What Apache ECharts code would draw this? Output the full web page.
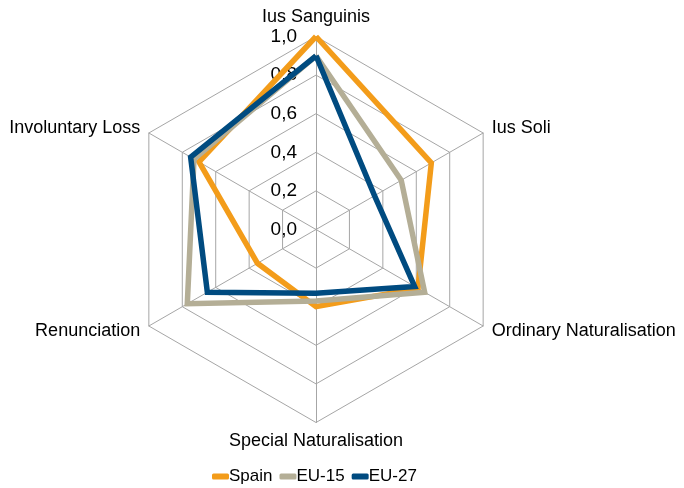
<!DOCTYPE html>
<html>
<head>
<meta charset="utf-8">
<script src="https://cdn.jsdelivr.net/npm/echarts@6/dist/echarts.min.js"></script>
<style>
html,body{margin:0;padding:0;background:#fff;}
#chart{width:684px;height:488px;}
</style>
</head>
<body>
<div id="chart"></div>
<script>
var categories = ['Ius Sanguinis', 'Ius Soli', 'Ordinary Naturalisation', 'Special Naturalisation', 'Renunciation', 'Involuntary Loss'];
var spain = [1.0, 0.69, 0.61, 0.40, 0.35, 0.70];
var eu15 = [0.90, 0.51, 0.65, 0.37, 0.77, 0.73];
var eu27 = [0.90, 0.35, 0.59, 0.33, 0.65, 0.75];
var seriesNames = ['Spain', 'EU-15', 'EU-27'];
var seriesColors = ['#F39C1A', '#B4AE96', '#004B80'];
var tickMin = 0, tickMax = 1, tickStep = 0.2;

// ECharts radar runs counter-clockwise; reorder so categories go clockwise
var order = [0, 5, 4, 3, 2, 1];
function reorder(arr) { return order.map(function (k) { return arr[k]; }); }

var FONT = '"Liberation Sans", Arial, sans-serif';
var chart = echarts.init(document.getElementById('chart'));
var values = [spain, eu15, eu27];

chart.setOption({
  animation: false,
  backgroundColor: '#fff',
  legend: {
    data: seriesNames,
    top: 463,
    left: 207,
    icon: 'roundRect',
    itemWidth: 17,
    itemHeight: 6,
    itemGap: 7,
    textStyle: {fontFamily: FONT, fontSize: 17, color: '#000', padding: [0, 0, 0, -5]}
  },
  radar: {
    center: [316, 229.5],
    radius: 193,
    shape: 'polygon',
    startAngle: 90,
    splitNumber: 5,
    nameGap: 10,
    axisName: {color: '#000', fontFamily: FONT, fontSize: 18},
    indicator: reorder(categories).map(function (c) { return {name: c, min: tickMin, max: tickMax}; }),
    axisLine: {lineStyle: {color: '#A6A6A6', width: 1}},
    splitLine: {lineStyle: {color: '#A6A6A6', width: 1}},
    splitArea: {show: false},
    axisTick: {show: false},
    axisLabel: {show: false}
  },
  polar: {center: [316, 229.5], radius: 193},
  angleAxis: {type: 'value', startAngle: 90, min: 0, max: 360, show: false},
  radiusAxis: {
    type: 'value', min: tickMin, max: tickMax, interval: tickStep, z: 0,
    axisLine: {show: false}, axisTick: {show: false}, splitLine: {show: false},
    axisLabel: {
      show: true, margin: 19, color: '#000', fontFamily: FONT, fontSize: 19,
      formatter: function (v) { return v.toFixed(1).replace('.', ','); }
    }
  },
  series: [{
    type: 'radar',
    symbol: 'none',
    z: 5,
    data: values.map(function (v, i) {
      return {
        name: seriesNames[i], value: reorder(v),
        itemStyle: {color: seriesColors[i]},
        lineStyle: {color: seriesColors[i], width: 5.5, join: 'miter'}
      };
    })
  }]
});
</script>
</body>
</html>
